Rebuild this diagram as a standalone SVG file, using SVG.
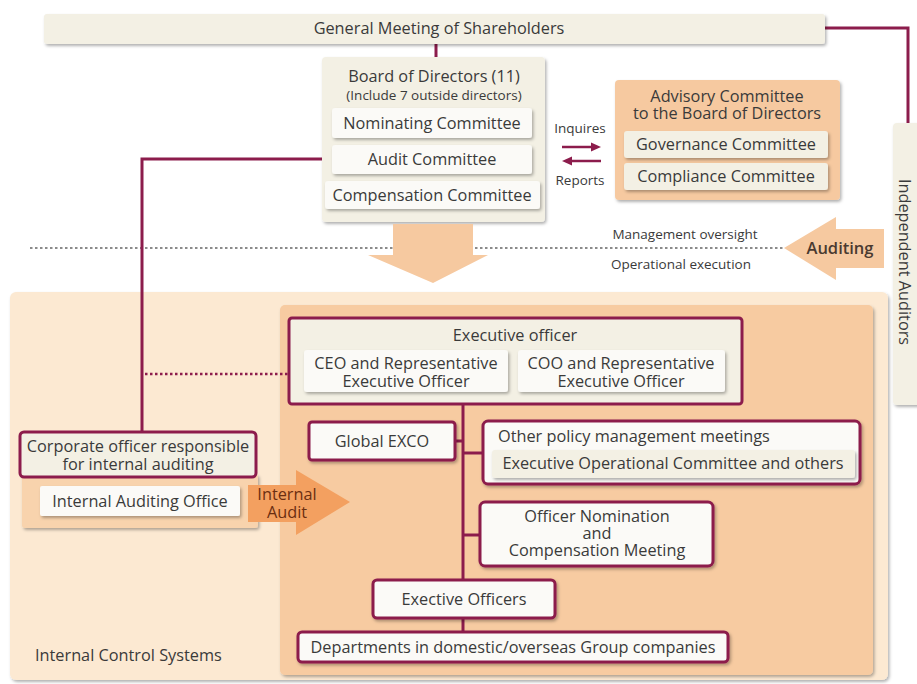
<svg xmlns="http://www.w3.org/2000/svg" width="917" height="684" viewBox="0 0 917 684">
<defs>
<filter id="sh" x="-10%" y="-20%" width="130%" height="150%">
<feDropShadow dx="1.5" dy="2" stdDeviation="1.5" flood-color="#000" flood-opacity="0.3"/>
</filter>
<style>
text{font-family:"Open Sans","Noto Sans","Liberation Sans",sans-serif;fill:#3a3a3a;font-size:16.3px;text-anchor:middle;dominant-baseline:central}
.sm{font-size:13.5px}
.cream{fill:#f3f0e4}
.white{fill:#fbfaf7}
.mb{stroke:#8c1c4c;stroke-width:3}
.ln{stroke:#8c1c4c;stroke-width:3;fill:none}
.orng{fill:#f6c9a0}
</style>
</defs>
<rect width="917" height="684" fill="#ffffff"/>

<g id="internal-control">
<rect x="10" y="292" width="878" height="388" rx="6" fill="#fce9d2" filter="url(#sh)"/>
<text x="35" y="655" style="text-anchor:start">Internal Control Systems</text>
</g>

<g id="execution-area">
<rect x="280" y="305" width="593" height="370" rx="5" fill="#f7cba1" filter="url(#sh)"/>
</g>

<!-- connectors -->
<g id="connectors">
<path class="ln" d="M436 44V57"/>
<path class="ln" d="M825 28H908V123"/>
<path d="M30 248H785" stroke="#666" stroke-width="1.5" stroke-dasharray="2.5 2.5" fill="none"/>
<path class="ln" d="M332 159H142V432"/>
<path d="M145 374H304" stroke="#8c1c4c" stroke-width="2.5" stroke-dasharray="2.5 2.5" fill="none"/>
<path class="ln" d="M463 404V580"/>
<path class="ln" d="M463 617V632"/>
<path class="ln" d="M455 441H463"/>
<path class="ln" d="M463 453H483"/>
<path class="ln" d="M463 535H480"/>
</g>

<g id="shareholders">
<rect x="44" y="14" width="781" height="30" rx="3" class="cream" filter="url(#sh)"/>
<text x="439" y="28">General Meeting of Shareholders</text>
</g>

<g id="auditors">
<rect x="893" y="123" width="30" height="282" rx="4" class="cream" filter="url(#sh)"/>
<text x="905" y="262" transform="rotate(90 905 262)">Independent Auditors</text>
</g>

<g id="board">
<rect x="322" y="57" width="223" height="165" rx="4" class="cream" filter="url(#sh)"/>
<text x="434" y="76">Board of Directors (11)</text>
<text x="434" y="95" class="sm">(Include 7 outside directors)</text>
<g id="nominating">
<rect x="332" y="108" width="200" height="30" rx="3" class="white" filter="url(#sh)"/>
<text x="432" y="123">Nominating Committee</text>
</g>
<g id="audit-committee">
<rect x="332" y="145" width="200" height="29" rx="3" class="white" filter="url(#sh)"/>
<text x="432" y="159">Audit Committee</text>
</g>
<g id="compensation">
<rect x="325" y="181" width="215" height="28" rx="3" class="white" filter="url(#sh)"/>
<text x="432" y="195">Compensation Committee</text>
</g>
</g>

<g id="inquires-reports">
<text x="580" y="128" class="sm">Inquires</text>
<path d="M562 147H593" stroke="#8c1c4c" stroke-width="2.5"/>
<path d="M601 147L591 142.5V151.5Z" fill="#8c1c4c"/>
<path d="M570 161H601" stroke="#8c1c4c" stroke-width="2.5"/>
<path d="M562 161L572 156.5V165.5Z" fill="#8c1c4c"/>
<text x="580" y="180" class="sm">Reports</text>
</g>

<g id="advisory">
<rect x="615" y="80" width="225" height="120" rx="4" class="orng" filter="url(#sh)"/>
<text x="727" y="96">Advisory Committee<tspan x="727" dy="17">to the Board of Directors</tspan></text>
<g id="governance">
<rect x="624" y="131" width="204" height="27" rx="3" class="cream" filter="url(#sh)"/>
<text x="726" y="144">Governance Committee</text>
</g>
<g id="compliance">
<rect x="624" y="163" width="204" height="27" rx="3" class="cream" filter="url(#sh)"/>
<text x="726" y="176">Compliance Committee</text>
</g>
</g>

<g id="oversight-labels">
<text x="685" y="234" class="sm">Management oversight</text>
<text x="681" y="264" class="sm">Operational execution</text>
</g>

<g id="auditing-arrow">
<path d="M784 248L836 217V229H884V268H836V280Z" fill="#f6c9a0"/>
<text x="840" y="247" style="font-size:16.5px;font-weight:600;fill:#4a3a30">Auditing</text>
</g>

<g id="down-arrow">
<path d="M393 224H473V255H488L433 283L368 255H393Z" fill="#f6c9a0"/>
</g>

<g id="executive-officer">
<rect x="289" y="318" width="453" height="86" rx="3" class="cream mb"/>
<text x="515" y="335">Executive officer</text>
<g id="ceo">
<rect x="304" y="350" width="204" height="42" rx="3" class="white" filter="url(#sh)"/>
<text x="406" y="363">CEO and Representative<tspan x="406" dy="18">Executive Officer</tspan></text>
</g>
<g id="coo">
<rect x="518" y="350" width="207" height="42" rx="3" class="white" filter="url(#sh)"/>
<text x="621" y="363">COO and Representative<tspan x="621" dy="18">Executive Officer</tspan></text>
</g>
</g>

<g id="global-exco">
<rect x="309" y="422" width="146" height="38" rx="3" class="white mb" filter="url(#sh)"/>
<text x="382" y="441">Global EXCO</text>
</g>

<g id="other-policy">
<rect x="483" y="421" width="377" height="63" rx="5" class="white mb" filter="url(#sh)"/>
<text x="498" y="436" style="text-anchor:start">Other policy management meetings</text>
<rect x="492" y="450" width="363" height="28" rx="3" class="cream" filter="url(#sh)"/>
<text x="673" y="463">Executive Operational Committee and others</text>
</g>

<g id="officer-nomination">
<rect x="480" y="502" width="233" height="64" rx="5" class="white mb" filter="url(#sh)"/>
<text x="597" y="516">Officer Nomination<tspan x="597" dy="17">and</tspan><tspan x="597" dy="17">Compensation Meeting</tspan></text>
</g>

<g id="exective-officers">
<rect x="373" y="580" width="182" height="38" rx="4" class="white mb" filter="url(#sh)"/>
<text x="464" y="599">Exective Officers</text>
</g>

<g id="departments">
<rect x="298" y="632" width="430" height="30" rx="4" class="white mb" filter="url(#sh)"/>
<text x="513" y="647">Departments in domestic/overseas Group companies</text>
</g>

<g id="corporate-officer">
<rect x="22" y="474" width="236" height="54" rx="3" fill="#f8d3ad" filter="url(#sh)"/>
<rect x="20" y="432" width="236" height="45" rx="4" class="cream mb"/>
<text x="138" y="446">Corporate officer responsible<tspan x="138" dy="18">for internal auditing</tspan></text>
</g>

<g id="internal-auditing-office">
<rect x="40" y="486" width="200" height="30" rx="2" class="white" filter="url(#sh)"/>
<text x="140" y="501">Internal Auditing Office</text>
</g>

<g id="internal-audit-arrow">
<path d="M248 485H296V470L350 502L296 535V522H248Z" fill="#f3a060"/>
<text x="287" y="494" style="fill:#6b2e10">Internal<tspan x="287" dy="18">Audit</tspan></text>
</g>
</svg>
